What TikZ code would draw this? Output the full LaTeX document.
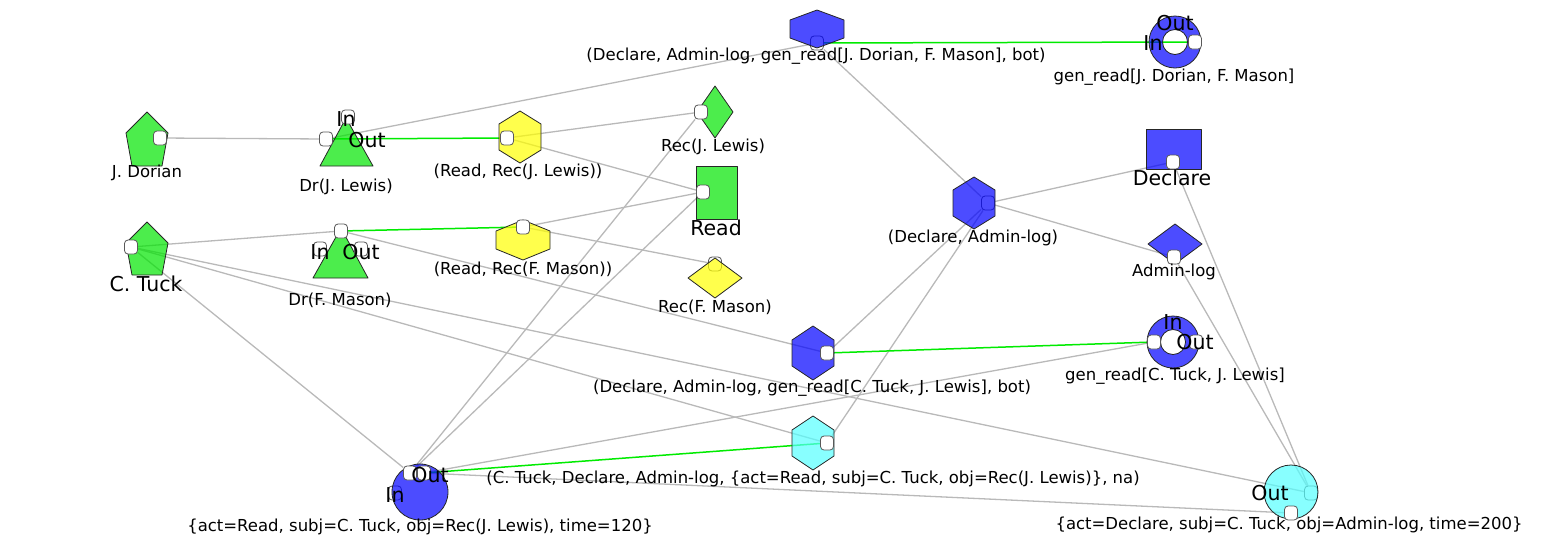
\documentclass[tikz,border=0pt]{standalone}
\usepackage{fontspec}
\setmainfont{DejaVu Sans}
\usepackage{tikz}
\usetikzlibrary{positioning}
\pgfdeclarelayer{edgelayer}
\pgfdeclarelayer{backport}
\pgfdeclarelayer{shapelayer}
\pgfsetlayers{edgelayer,backport,shapelayer,main}
\definecolor{vertGreen}{RGB}{0,230,0}
\definecolor{vertBlue}{RGB}{0,0,255}
\definecolor{vertYellow}{RGB}{255,255,0}
\definecolor{vertCyan}{RGB}{85,255,255}
\definecolor{edgeGray}{RGB}{185,185,185}
\definecolor{flowGreen}{RGB}{0,235,0}

\begin{document}
\begin{tikzpicture}[x=1pt, y=-1pt,
  vert/.style={draw=black!85, line width=0.8pt, fill opacity=0.7, line join=round},
  port/.style={draw=black!65, fill=white, rounded corners=3.5pt, minimum width=13pt, minimum height=14pt, inner sep=0pt, line width=0.8pt},
  lbl/.style={font=\fontsize{16.5}{19}\selectfont, inner sep=0pt},
  big/.style={font=\fontsize{20.5}{24}\selectfont, inner sep=0pt},
  link/.style={draw=edgeGray, line width=1.3pt},
  flow/.style={draw=flowGreen, line width=1.5pt}
]
\useasboundingbox (0,0) rectangle (1550,555);

% vertex centres
\coordinate (dorian) at (147,139);
\coordinate (ctuck) at (147,249);
\coordinate (drJL) at (346,146);
\coordinate (drFM) at (341,253);
\coordinate (rdJL) at (520,137);
\coordinate (recJL) at (715,112);
\coordinate (read) at (716,192);
\coordinate (rdFM) at (523,240);
\coordinate (recFM) at (715,278);
\coordinate (daJD) at (817,29);
\coordinate (genJD) at (1175,42);
\coordinate (declare) at (1173,149);
\coordinate (decAdm) at (974,203);
\coordinate (admin) at (1175,244);
\coordinate (daCT) at (813,353);
\coordinate (genCT) at (1173,342);
\coordinate (ctDA) at (813,443);
\coordinate (actRead) at (420,492);
\coordinate (actDecl) at (1291,492);

% ports
\node[port] (pDorian) at (160,138) {};
\node[port] (pDrJLw) at (326,139) {};
\node[port] (pDrJLn) at (348,117) {};
\node[port] (pRdJL) at (507,138) {};
\node[port] (pRecJL) at (701,112) {};
\node[port] (pRead) at (703,192) {};
\node[port] (pCTuck) at (131,247) {};
\node[port] (pDrFM) at (341,231) {};
\node[port] (pDrFMw) at (320,249) {};
\node[port] (pDrFMe) at (361,249) {};
\node[port] (pRdFM) at (523,227) {};
\node[port] (pDeclare) at (1173,162) {};
\node[port] (pAdmin) at (1174,257) {};
\node[port] (pDaCT) at (827,353) {};
\node[port] (pGenCTw) at (1154,342) {};
\node[port] (pGenCTe) at (1196,342) {};
\node[port] (pGenJDe) at (1195,42) {};
\node[port] (pCtDA) at (827,443) {};
\node[port] (pActReadA) at (410,473) {};
\node[port] (pActReadB) at (424,473) {};
\node[port] (pActDeclS) at (1291,513) {};
\begin{pgfonlayer}{backport}
\node[port] (pDaJD) at (817,43) {};
\node[port] (pDecAdm) at (988,203) {};
\node[port] (pRecFM) at (715,264) {};
\node[port] (pActDeclE) at (1311,493) {};
\node[port] (pActReadW) at (395,493) {};
\end{pgfonlayer}

% connectors
\begin{pgfonlayer}{edgelayer}
\draw[link] (pDorian) -- (pDrJLw);
\draw[link] (pDrJLw) -- (pDaJD);
\draw[link] (pRdJL) -- (pRecJL);
\draw[link] (pRdJL) -- (pRead);
\draw[link] (pRecJL) -- (pActReadA);
\draw[link] (pRead) -- (pActReadA);
\draw[link] (pRead) -- (pRdFM);
\draw[link] (pRdFM) -- (pRecFM);
\draw[link] (pCTuck) -- (pDrFM);
\draw[link] (pDrFM) -- (pDaCT);
\draw[link] (pCTuck) -- (pActReadA);
\draw[link] (pCTuck) -- (pCtDA);
\draw[link] (pCTuck) -- (pActDeclE);
\draw[link] (pActReadB) -- (pActDeclS);
\draw[link] (pActReadB) -- (pGenCTw);
\draw[link] (pDaJD) -- (pDecAdm);
\draw[link] (pDecAdm) -- (pDeclare);
\draw[link] (pDecAdm) -- (pAdmin);
\draw[link] (pDecAdm) -- (pDaCT);
\draw[link] (pDecAdm) -- (pCtDA);
\draw[link] (pDeclare) -- (pActDeclE);
\draw[link] (pAdmin) -- (pActDeclE);
\draw[flow] (pDrJLw) -- (pRdJL);
\draw[flow] (pDrFM) -- (pRdFM);
\draw[flow] (pDaJD) -- (pGenJDe);
\draw[flow] (pDaCT) -- (pGenCTw);
\draw[flow] (pActReadB) -- (pCtDA);
\end{pgfonlayer}

% vertex shapes
\begin{pgfonlayer}{shapelayer}
\draw[vert, fill=vertGreen, shift={(dorian)}] (0,-27) -- (21,-6) -- (15,27) -- (-15,27) -- (-21,-6) -- cycle;
\draw[vert, fill=vertGreen, shift={(ctuck)}] (0,-27) -- (21,-6) -- (15,26) -- (-15,26) -- (-21,-6) -- cycle;
\draw[vert, fill=vertGreen, shift={(drJL)}] (0,-28) -- (27,20) -- (-26,20) -- cycle;
\draw[vert, fill=vertGreen, shift={(drFM)}] (0,-25) -- (27,25) -- (-28,25) -- cycle;
\draw[vert, fill=vertYellow, shift={(rdJL)}] (0,-26) -- (21,-13) -- (21,13) -- (0,26) -- (-21,13) -- (-21,-13) -- cycle;
\draw[vert, fill=vertGreen, shift={(recJL)}] (0,-26) -- (18,0) -- (0,26) -- (-18,0) -- cycle;
\draw[vert, fill=vertGreen, shift={(read)}] (-20,-26) rectangle (21,27);
\draw[vert, fill=vertYellow, shift={(rdFM)}] (0,-20) -- (27,-9) -- (27,9) -- (0,20) -- (-27,9) -- (-27,-9) -- cycle;
\draw[vert, fill=vertYellow, shift={(recFM)}] (0,-20) -- (27,0) -- (0,20) -- (-27,0) -- cycle;
\draw[vert, fill=vertBlue, shift={(daJD)}] (0,-19) -- (27,-9) -- (27,9) -- (0,19) -- (-27,9) -- (-27,-9) -- cycle;
\draw[vert, fill=vertBlue, even odd rule] (genJD) circle[radius=26pt] (genJD) circle[radius=12.5pt];
\draw[vert, fill=vertBlue, shift={(declare)}] (-27,-20) rectangle (28,20);
\draw[vert, fill=vertBlue, shift={(decAdm)}] (0,-26) -- (21,-13) -- (21,13) -- (0,26) -- (-21,13) -- (-21,-13) -- cycle;
\draw[vert, fill=vertBlue, shift={(admin)}] (0,-20) -- (27,0) -- (0,20) -- (-27,0) -- cycle;
\draw[vert, fill=vertBlue, shift={(daCT)}] (0,-27) -- (21,-13) -- (21,13) -- (0,27) -- (-21,13) -- (-21,-13) -- cycle;
\draw[vert, fill=vertBlue, even odd rule] (genCT) circle[radius=26pt] (genCT) circle[radius=12.5pt];
\draw[vert, fill=vertCyan, shift={(ctDA)}] (0,-27) -- (21,-13) -- (21,13) -- (0,27) -- (-21,13) -- (-21,-13) -- cycle;
\draw[vert, fill=vertBlue] (actRead) circle[radius=28pt];
\draw[vert, fill=vertCyan] (actDecl) circle[radius=27pt];
\end{pgfonlayer}

% labels
\node[lbl] (tDorian) at (147,173) {J. Dorian};
\node[lbl] (tDrJL) at (346,187) {Dr(J. Lewis)};
\node[lbl] (tRdJL) at (518,172) {(Read, Rec(J. Lewis))};
\node[lbl] (tRecJL) at (713,147) {Rec(J. Lewis)};
\node[big] (tRead) at (716,228) {Read};
\node[big] (tCTuck) at (146,284) {C. Tuck};
\node[lbl] (tDrFM) at (340,300) {Dr(F. Mason)};
\node[lbl] (tRdFM) at (523,269) {(Read, Rec(F. Mason))};
\node[lbl] (tRecFM) at (715,307) {Rec(F. Mason)};
\node[lbl] (tDaJD) at (816,56) {(Declare, Admin-log, gen\_read[J. Dorian, F. Mason], bot)};
\node[lbl] (tGenJD) at (1174,77) {gen\_read[J. Dorian, F. Mason]};
\node[big] (tDeclare) at (1172,178) {Declare};
\node[lbl] (tDecAdm) at (973,238) {(Declare, Admin-log)};
\node[lbl] (tAdmin) at (1174,272) {Admin-log};
\node[lbl] (tDaCT) at (812,388) {(Declare, Admin-log, gen\_read[C. Tuck, J. Lewis], bot)};
\node[lbl] (tGenCT) at (1175,376) {gen\_read[C. Tuck, J. Lewis]};
\node[lbl] (tCtDA) at (813,479) {(C. Tuck, Declare, Admin-log, \{act=Read, subj=C. Tuck, obj=Rec(J. Lewis)\}, na)};
\node[lbl] (tActRead) at (420,527) {\{act=Read, subj=C. Tuck, obj=Rec(J. Lewis), time=120\}};
\node[lbl] (tActDecl) at (1289,525) {\{act=Declare, subj=C. Tuck, obj=Admin-log, time=200\}};

% In / Out marks
\node[big] (inJL) at (346,119) {In};
\node[big] (outJL) at (367,140) {Out};
\node[big] (inFM) at (320,252) {In};
\node[big] (outFM) at (361,252) {Out};
\node[big] (outJD) at (1175,23) {Out};
\node[big] (inJD) at (1153,43) {In};
\node[big] (inCT) at (1173,322) {In};
\node[big] (outCT) at (1195,342) {Out};
\node[big] (outRd) at (430,475) {Out};
\node[big] (inRd) at (395,495) {In};
\node[big] (outDc) at (1270,493) {Out};
\end{tikzpicture}
\end{document}
